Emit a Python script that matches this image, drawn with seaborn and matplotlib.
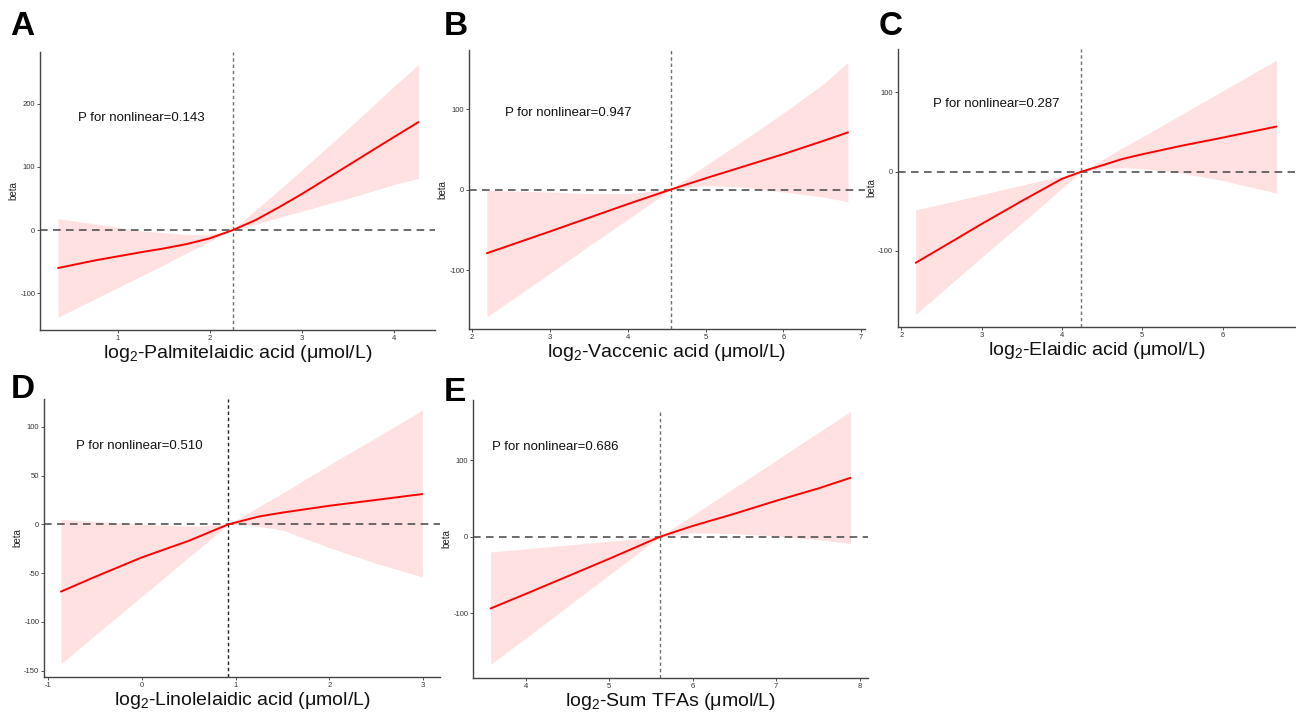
import numpy as np
import pandas as pd
import matplotlib
matplotlib.use("Agg")
import matplotlib.pyplot as plt
import seaborn as sns

# Panel A - Palmitelaidic acid
a_x = [0.35, 0.75, 1.25, 1.5, 1.75, 2.0, 2.25, 2.5, 2.75, 3.0, 3.5, 4.0, 4.27]
a_beta = [-60, -48, -35, -29, -22, -13, 0, 16, 36, 57, 102, 147, 171]
a_upper = [18, 10, -1, -4, -7, -7, 0, 32, 63, 95, 160, 227, 262]
a_lower = [-138, -109, -73, -55, -36, -18, 0, 9, 20, 30, 50, 72, 82]

# Panel B - Vaccenic acid
b_x = [2.19, 3.0, 3.5, 4.0, 4.55, 5.0, 5.5, 6.0, 6.5, 6.83]
b_beta = [-79, -52, -35, -18, 0, 14, 29, 44, 60, 71]
b_upper = [-1, -3, -5, -5, 0, 30, 62, 95, 130, 158]
b_lower = [-158, -104, -70, -37, 0, 5, 3, -3, -9, -15]

# Panel C - Elaidic acid
c_x = [2.18, 2.5, 3.0, 3.5, 3.75, 4.0, 4.24, 4.5, 4.75, 5.0, 5.5, 6.0, 6.67]
c_beta = [-115, -96, -66, -37, -23, -9, 0, 8, 16, 22, 33, 43, 57]
c_upper = [-48, -41, -29, -17, -11, -6, 0, 15, 30, 44, 73, 102, 141]
c_lower = [-180, -152, -108, -65, -43, -21, 0, 4, 5, 4, -2, -11, -27]

# Panel D - Linolelaidic acid
d_x = [-0.86, -0.5, 0.0, 0.5, 0.925, 1.25, 1.5, 2.0, 2.5, 2.99]
d_beta = [-69, -54, -34, -17, 0, 8, 12, 19, 25, 31]
d_upper = [5, 3, 0, -2, 0, 18, 32, 61, 89, 117]
d_lower = [-143, -114, -74, -34, 0, -2, -6, -24, -40, -54]

# Panel E - Sum TFAs
e_x = [3.58, 4.0, 5.0, 5.61, 6.0, 6.5, 7.0, 7.5, 7.89]
e_beta = [-94, -75, -29, 0, 14, 30, 47, 63, 77]
e_upper = [-20, -16, -6, 0, 28, 64, 100, 136, 164]
e_lower = [-167, -133, -50, 0, 5, 4, 1, -4, -9]

panels = [
    dict(tag="A", x=a_x, y=a_beta, up=a_upper, lo=a_lower, knot=2.25,
         name="Palmitelaidic acid", p="0.143", ptxt=(0.57, 178),
         xlim=(0.155, 4.45), ylim=(-158, 282), xt=[1, 2, 3, 4], yt=[-100, 0, 100, 200],
         pos=[0.0309, 0.5372, 0.3048, 0.390], vtop=None, vcol="#707070", tagxy=(10, 35)),
    dict(tag="B", x=b_x, y=b_beta, up=b_upper, lo=b_lower, knot=4.55,
         name="Vaccenic acid", p="0.947", ptxt=(2.42, 95),
         xlim=(1.96, 7.05), ylim=(-173, 173), xt=[2, 3, 4, 5, 6, 7], yt=[-100, 0, 100],
         pos=[0.3619, 0.5386, 0.3056, 0.391], vtop=None, vcol="#707070", tagxy=(444, 35)),
    dict(tag="C", x=c_x, y=c_beta, up=c_upper, lo=c_lower, knot=4.24,
         name="Elaidic acid", p="0.287", ptxt=(2.39, 85),
         xlim=(1.96, 6.9), ylim=(-196, 155), xt=[2, 3, 4, 5, 6], yt=[-100, 0, 100],
         pos=[0.6929, 0.5414, 0.3063, 0.390], vtop=None, vcol="#707070", tagxy=(879, 35)),
    dict(tag="D", x=d_x, y=d_beta, up=d_upper, lo=d_lower, knot=0.925,
         name="Linolelaidic acid", p="0.510", ptxt=(-0.70, 80),
         xlim=(-1.04, 3.18), ylim=(-156.5, 128.5), xt=[-1, 0, 1, 2, 3],
         yt=[-150, -100, -50, 0, 50, 100],
         pos=[0.034, 0.0505, 0.3056, 0.390], vtop=None, vcol="#222222", tagxy=(11, 398)),
    dict(tag="E", x=e_x, y=e_beta, up=e_upper, lo=e_lower, knot=5.61,
         name="Sum TFAs", p="0.686", ptxt=(3.60, 118),
         xlim=(3.37, 8.1), ylim=(-185, 179), xt=[4, 5, 6, 7, 8], yt=[-100, 0, 100],
         pos=[0.365, 0.0491, 0.3048, 0.390], vtop=164, vcol="#707070", tagxy=(444, 401)),
]

sns.set_theme(style="white")
plt.rcParams["font.family"] = ["Liberation Sans", "DejaVu Sans"]
plt.rcParams["mathtext.fontset"] = "custom"
plt.rcParams["mathtext.rm"] = "Liberation Sans"
plt.rcParams["axes.unicode_minus"] = False

W, H = 1296, 713
fig = plt.figure(figsize=(W / 100, H / 100), dpi=100)

for pn in panels:
    ax = fig.add_axes(pn["pos"])
    df = pd.DataFrame({"x": pn["x"], "beta": pn["y"], "up": pn["up"], "lo": pn["lo"]})
    ax.fill_between(df["x"], df["lo"], df["up"], color="#ffe1e1", lw=0, zorder=1)
    ax.axhline(0, color="#444444", lw=1.1, dashes=(5, 3.5), zorder=2)
    if pn["vtop"] is None:
        ax.axvline(pn["knot"], color=pn["vcol"], lw=1.0, dashes=(2.5, 2), zorder=2)
    else:
        ax.vlines(pn["knot"], pn["ylim"][0], pn["vtop"], color=pn["vcol"], lw=1.0,
                  linestyles=(0, (2.5, 2)), zorder=2)
    sns.lineplot(data=df, x="x", y="beta", ax=ax, color="#ff0000", lw=1.4, zorder=3)

    ax.set_xlim(pn["xlim"])
    ax.set_ylim(pn["ylim"])
    ax.set_xticks(pn["xt"])
    ax.set_yticks(pn["yt"])
    ax.tick_params(axis="both", labelsize=5.5, colors="#333333", length=2, width=0.6,
                   pad=1.5, bottom=True, left=True)
    for s in ["top", "right"]:
        ax.spines[s].set_visible(False)
    for s in ["left", "bottom"]:
        ax.spines[s].set_color("#444444")
        ax.spines[s].set_linewidth(1.0)

    ax.set_xlabel(r"log$\mathregular{_2}$-" + pn["name"] + " (μmol/L)", fontsize=14,
                  color="#111111", labelpad=1)
    ax.set_ylabel("beta", fontsize=7, color="#222222", labelpad=1)
    ax.text(pn["ptxt"][0], pn["ptxt"][1], "P for nonlinear=" + pn["p"], fontsize=9.5,
            color="#111111", va="center", ha="left")

    tx, ty = pn["tagxy"]
    fig.text(tx / W, 1 - ty / H, pn["tag"], fontsize=24, fontweight="bold",
             color="black", ha="left", va="baseline")

fig.savefig("out.png", dpi=100)
